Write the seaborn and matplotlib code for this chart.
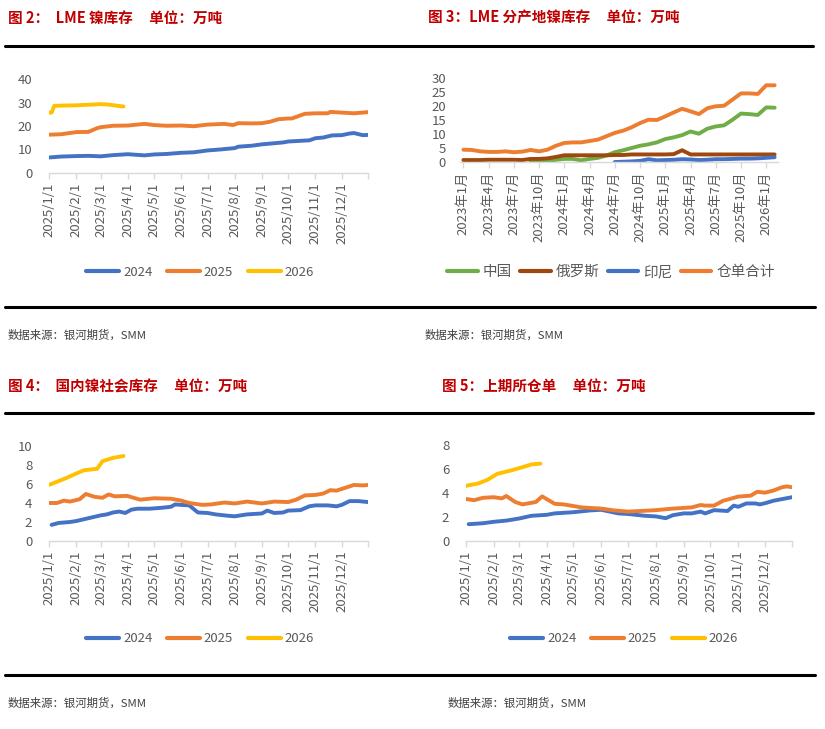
import numpy as np
import pandas as pd
import matplotlib
matplotlib.use("Agg")
import matplotlib.pyplot as plt
from matplotlib.lines import Line2D
import seaborn as sns

sns.set_style("white")
plt.rcParams['font.family'] = ['Noto Sans CJK SC', 'DejaVu Sans']

W, H = 825, 729
BLUE, ORANGE, YELLOW = '#4472C4', '#ED7D31', '#FFC000'
GREEN, BROWN = '#70AD47', '#9E480E'
RED = '#C00000'
GREY = '#595959'

# ---- 图2: LME 镍库存 (万吨) ----
lme_2024_dates = ["1/1", "1/15", "2/1", "2/15", "3/1", "3/15", "4/1", "4/20", "5/1", "5/15",
                  "6/1", "6/15", "7/1", "7/15", "8/1", "8/5", "8/20", "9/1", "9/25", "10/1",
                  "10/25", "11/1", "11/10", "11/20", "12/1", "12/10", "12/15", "12/25", "12/31"]
lme_2024 = [6.6, 7.0, 7.2, 7.3, 7.1, 7.6, 8.0, 7.5, 7.9, 8.1,
            8.6, 8.8, 9.6, 10.0, 10.6, 11.2, 11.6, 12.2, 13.0, 13.4,
            13.9, 14.8, 15.1, 16.0, 16.1, 16.8, 17.0, 16.1, 16.2]
lme_2025_dates = ["1/1", "1/15", "2/1", "2/15", "2/25", "3/1", "3/15", "4/1", "4/20", "5/1",
                  "5/15", "6/1", "6/15", "7/1", "7/20", "7/30", "8/5", "8/20", "9/1", "9/10",
                  "9/20", "10/1", "10/5", "10/20", "11/1", "11/15", "11/18", "12/1", "12/15", "12/31"]
lme_2025 = [16.3, 16.5, 17.4, 17.5, 19.1, 19.5, 20.1, 20.2, 20.9, 20.4,
            20.1, 20.2, 19.9, 20.6, 20.9, 20.4, 21.2, 21.1, 21.2, 21.8,
            22.9, 23.2, 23.2, 25.2, 25.4, 25.4, 26.0, 25.7, 25.4, 25.9]
lme_2026_dates = ["1/1", "1/4", "1/7", "2/1", "3/1", "3/10", "3/20", "3/27"]
lme_2026 = [25.7, 25.7, 28.6, 28.8, 29.3, 29.1, 28.6, 28.3]

# ---- 图3: LME 分产地镍库存 (万吨), 月度 2023年1月 - 2026年2月 ----
origin_months = pd.period_range("2023-01", "2026-02", freq="M")
china = [np.nan] * 8 + [0.0, 0.0, 0.2, 0.8,
                        1.1, 1.1, 0.6, 1.1, 1.5, 2.3, 3.5, 4.2, 5.0, 5.8, 6.3, 7.0,
                        8.2, 8.8, 9.6, 10.9, 10.1, 11.9, 12.7, 13.1, 15.1, 17.3, 17.1, 16.8,
                        19.5, 19.4]
russia = [0.7, 0.7, 0.7, 0.8, 0.8, 0.8, 0.8, 0.7, 1.1, 1.1, 1.3, 1.8,
          2.4, 2.4, 2.4, 2.4, 2.4, 2.4, 2.5, 2.5, 2.7, 2.7, 2.7, 2.7,
          2.7, 2.8, 4.2, 2.7, 2.7, 2.7, 2.7, 2.7, 2.7, 2.7, 2.7, 2.7,
          2.7, 2.7]
indonesia = [np.nan] * 18 + [0.0, 0.1, 0.2, 0.4, 1.0, 0.6,
                             0.7, 0.8, 1.0, 0.9, 0.7, 0.8, 1.0, 1.0, 1.1, 1.2, 1.2, 1.3,
                             1.5, 1.7]
warrant_total = [4.4, 4.3, 3.8, 3.6, 3.6, 3.8, 3.5, 3.7, 4.3, 3.8, 4.4, 5.8,
                 6.8, 7.0, 7.0, 7.5, 8.0, 9.2, 10.4, 11.2, 12.4, 13.9, 15.1, 15.0,
                 16.3, 17.7, 19.0, 18.1, 17.1, 19.2, 19.9, 20.1, 22.3, 24.5, 24.5, 24.3,
                 27.4, 27.4]

# ---- 图4: 国内镍社会库存 (万吨) ----
soc_2024_dates = ["1/4", "1/12", "1/25", "2/1", "2/15", "3/1", "3/8", "3/15", "3/22", "3/29",
                  "4/5", "4/12", "4/26", "5/10", "5/20", "5/25", "6/1", "6/10", "6/20", "7/1",
                  "7/10", "7/25", "8/1", "8/15", "9/1", "9/7", "9/15", "9/25", "10/1", "10/15",
                  "10/25", "11/1", "11/15", "11/25", "12/1", "12/10", "12/20", "12/31"]
soc_2024 = [1.7, 1.9, 2.0, 2.1, 2.4, 2.7, 2.8, 3.0, 3.1, 2.95,
            3.3, 3.4, 3.4, 3.5, 3.6, 3.85, 3.8, 3.75, 3.0, 2.95,
            2.8, 2.65, 2.6, 2.8, 2.9, 3.2, 2.95, 3.0, 3.2, 3.25,
            3.65, 3.75, 3.75, 3.65, 3.8, 4.2, 4.2, 4.1]
soc_2025_dates = ["1/1", "1/10", "1/18", "1/25", "2/5", "2/12", "2/22", "3/3", "3/10", "3/17",
                  "3/31", "4/15", "5/1", "5/20", "6/1", "6/10", "6/25", "7/5", "7/20", "8/1",
                  "8/15", "9/1", "9/15", "10/1", "10/10", "10/20", "11/1", "11/10", "11/18", "11/25",
                  "12/5", "12/15", "12/25", "12/31"]
soc_2025 = [4.0, 4.0, 4.25, 4.15, 4.4, 4.95, 4.65, 4.55, 4.9, 4.7,
            4.75, 4.35, 4.5, 4.45, 4.25, 4.0, 3.8, 3.85, 4.05, 3.95,
            4.15, 3.95, 4.15, 4.1, 4.35, 4.8, 4.85, 5.0, 5.35, 5.3,
            5.6, 5.9, 5.85, 5.9]
soc_2026_dates = ["1/1", "1/20", "2/1", "2/10", "2/25", "3/3", "3/15", "3/27"]
soc_2026 = [5.9, 6.6, 7.1, 7.45, 7.6, 8.4, 8.75, 8.95]

# ---- 图5: 上期所仓单 (万吨) ----
shfe_2024_dates = ["1/4", "1/20", "2/1", "2/15", "3/1", "3/15", "4/1", "4/10", "5/1", "5/20",
                   "6/1", "6/20", "7/1", "7/20", "8/1", "8/12", "8/20", "9/1", "9/10", "9/20",
                   "9/25", "10/5", "10/20", "10/27", "11/1", "11/10", "11/20", "11/25", "12/1", "12/10",
                   "12/31"]
shfe_2024 = [1.4, 1.48, 1.6, 1.7, 1.87, 2.1, 2.18, 2.3, 2.4, 2.55,
             2.6, 2.3, 2.25, 2.1, 2.05, 1.9, 2.15, 2.3, 2.3, 2.45,
             2.3, 2.57, 2.5, 2.95, 2.85, 3.13, 3.13, 3.05, 3.15, 3.35,
             3.65]
shfe_2025_dates = ["1/1", "1/10", "1/20", "2/1", "2/10", "2/15", "2/25", "3/5", "3/20", "3/27",
                   "4/10", "4/20", "5/10", "6/1", "6/15", "7/1", "8/1", "8/20", "9/10", "9/20",
                   "9/25", "10/5", "10/15", "11/1", "11/15", "11/22", "12/1", "12/10", "12/20", "12/25",
                   "12/31"]
shfe_2025 = [3.5, 3.4, 3.6, 3.65, 3.55, 3.75, 3.25, 3.05, 3.25, 3.72,
             3.1, 3.05, 2.8, 2.7, 2.55, 2.45, 2.57, 2.7, 2.8, 3.0,
             2.95, 2.95, 3.35, 3.7, 3.78, 4.1, 4.03, 4.2, 4.48, 4.55,
             4.48]
shfe_2026_dates = ["1/1", "1/15", "1/25", "2/5", "2/20", "3/5", "3/15", "3/25"]
shfe_2026 = [4.6, 4.8, 5.1, 5.6, 5.87, 6.15, 6.38, 6.45]

years = ["2024", "2025", "2026"]


def px(l, t, r, b):
    return [l / W, 1 - b / H, (r - l) / W, (b - t) / H]


def year_frame(series):
    rows = []
    for yr, dates, vals in series:
        for d, v in zip(dates, vals):
            m, dd = d.split("/")
            rows.append((pd.Timestamp(2025, int(m), int(dd)), v, yr))
    return pd.DataFrame(rows, columns=["date", "value", "year"])


def style_axes(ax, yticks):
    for s in ["top", "right", "left"]:
        ax.spines[s].set_visible(False)
    ax.spines["bottom"].set_color("#D9D9D9")
    ax.spines["bottom"].set_linewidth(1)
    ax.set_ylim(yticks[0], yticks[-1])
    ax.set_yticks(yticks)
    ax.tick_params(axis="y", length=0, pad=12, labelsize=9.5, labelcolor=GREY)
    ax.tick_params(axis="x", length=4, color="#D9D9D9", width=1, pad=3,
                   labelsize=9.5, labelcolor=GREY, rotation=90, bottom=True)
    ax.set_xlabel("")
    ax.set_ylabel("")
    ax.grid(False)


def put_legend(ax, cx, cy, ncol, fs=9.5, hl=2.5, tp=0.3, cs=1.1):
    handles, labels = ax.get_legend_handles_labels()
    for h in handles:
        h.set_linewidth(3)
    ax.legend(handles, labels, loc="center", bbox_to_anchor=(cx / W, 1 - cy / H),
              bbox_transform=fig.transFigure, ncol=ncol, frameon=False, fontsize=fs,
              handlelength=hl, handletextpad=tp, columnspacing=cs, labelcolor=GREY)


def year_panel(rect, df, yticks, legend_xy):
    ax = fig.add_axes(px(*rect))
    sns.lineplot(data=df, x="date", y="value", hue="year", hue_order=years,
                 palette=[BLUE, ORANGE, YELLOW], linewidth=2.8, ax=ax, sort=False)
    style_axes(ax, yticks)
    ticks = [pd.Timestamp(2025, m, 1) for m in range(1, 13)] + [pd.Timestamp(2025, 12, 31)]
    ax.set_xlim(pd.Timestamp(2025, 1, 1), pd.Timestamp(2025, 12, 31))
    ax.set_xticks(ticks)
    ax.set_xticklabels([f"2025/{t.month}/1" for t in ticks[:-1]] + [""])
    put_legend(ax, legend_xy[0], legend_xy[1], 3)
    return ax


fig = plt.figure(figsize=(W / 100, H / 100), dpi=100)

# panel 1
df1 = year_frame([("2024", lme_2024_dates, lme_2024),
                  ("2025", lme_2025_dates, lme_2025),
                  ("2026", lme_2026_dates, lme_2026)])
year_panel((49, 79, 368, 173), df1, [0, 10, 20, 30, 40], (200, 272))

# panel 2
n = len(origin_months)
df2 = pd.DataFrame({
    "idx": np.tile(np.arange(n), 4),
    "value": china + russia + indonesia + warrant_total,
    "origin": ["中国"] * n + ["俄罗斯"] * n + ["印尼"] * n + ["仓单合计"] * n,
}).dropna()
ax2 = fig.add_axes(px(460, 78, 778, 162))
sns.lineplot(data=df2, x="idx", y="value", hue="origin",
             hue_order=["中国", "俄罗斯", "印尼", "仓单合计"],
             palette=[GREEN, BROWN, BLUE, ORANGE], linewidth=2.8, ax=ax2)
style_axes(ax2, [0, 5, 10, 15, 20, 25, 30])
ax2.set_xlim(-0.4, n - 0.6)
tick_idx = list(range(0, n, 3))
ax2.set_xticks(tick_idx)
ax2.set_xticklabels([f"{origin_months[i].year}年{origin_months[i].month}月" for i in tick_idx])
ax2.tick_params(axis="y", pad=10)
put_legend(ax2, 611, 272, 4, fs=10.5, hl=2.1, tp=0.35, cs=0.55)

# panel 3
df3 = year_frame([("2024", soc_2024_dates, soc_2024),
                  ("2025", soc_2025_dates, soc_2025),
                  ("2026", soc_2026_dates, soc_2026)])
year_panel((49, 446, 368, 541), df3, [0, 2, 4, 6, 8, 10], (200, 639))

# panel 4
df4 = year_frame([("2024", shfe_2024_dates, shfe_2024),
                  ("2025", shfe_2025_dates, shfe_2025),
                  ("2026", shfe_2026_dates, shfe_2026)])
year_panel((466, 445, 792, 541), df4, [0, 2, 4, 6, 8], (624, 639))

# titles, rules, sources
titles = [(8, 18, "图 2：  LME 镍库存     单位：万吨"),
          (428, 18, "图 3：LME 分产地镍库存     单位：万吨"),
          (8, 386, "图 4：  国内镍社会库存     单位：万吨"),
          (442, 386, "图 5：上期所仓单     单位：万吨")]
for x, y, t in titles:
    fig.text(x / W, 1 - y / H, t, color=RED, fontsize=10.5, fontweight="bold", va="center")

for y, x0, x1 in [(46, 5, 813), (307, 5, 815), (413, 5, 813), (675, 5, 815)]:
    fig.add_artist(Line2D([x0 / W, x1 / W], [1 - y / H, 1 - y / H], color="black",
                          linewidth=2.2, transform=fig.transFigure))

for x, y in [(8, 335), (425, 335), (8, 703), (448, 703)]:
    fig.text(x / W, 1 - y / H, "数据来源：银河期货，SMM", color="#404040", fontsize=8.2, va="center")

fig.savefig("out.png", dpi=100)
